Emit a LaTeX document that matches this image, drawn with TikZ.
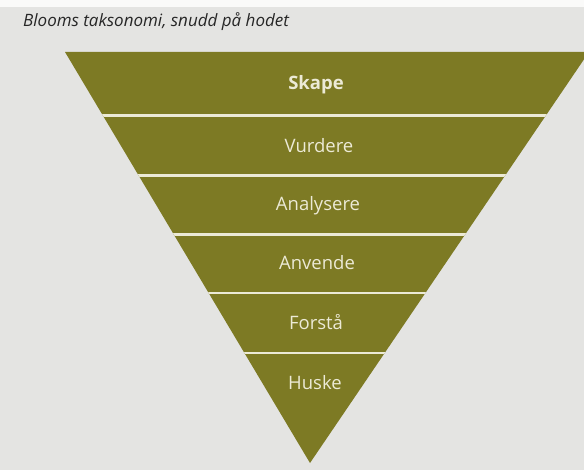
\documentclass[tikz,border=0pt]{standalone}
\usepackage{fontspec}
\setmainfont{Open Sans}
\usepackage{tikz}
\definecolor{olive}{RGB}{125,122,36}
\definecolor{paper}{RGB}{228,228,226}
\definecolor{cream}{RGB}{236,234,214}
\tikzset{
  layer/.style={font=\fontsize{18.5}{21}\selectfont, text=cream, inner sep=0pt},
  divider/.style={draw=cream, line width=2.6pt}
}
\newcommand{\layerlabel}[4]{\node[layer] (#1) at ( #2 , #3 ) {#4};}
\newcommand{\divline}[1]{\draw[divider] ( 0 , #1 ) -- ( 600 , #1 );}

\begin{document}
\begin{tikzpicture}[x=1pt,y=-1pt]
        % page
        \useasboundingbox (0,0) rectangle (584,470);
        \fill[paper] (0,0) rectangle (584,470);
        \fill[white!80!paper] (0,0) rectangle (584,7);
        \clip (0,0) rectangle (584,470);
        % heading
        \node[anchor=base west, inner sep=0pt, font=\itshape\fontsize{17}{20}\selectfont, text=black!85] (title) at (23,27) {Blooms taksonomi, snudd på hodet};
        % triangle
        \fill[olive] (65,52) -- (589,52) -- (310,463) -- cycle;
        \begin{scope}
            \clip (65,52) -- (589,52) -- (310,463) -- cycle;
            \divline{115.5}
            \divline{175.5}
            \divline{234.5}
            \divline{293}
            \divline{353}
        \end{scope}
        % labels, top to bottom
        \layerlabel{skape}{316}{85}{\textbf{Skape}}
        \layerlabel{vurdere}{319}{146}{Vurdere}
        \layerlabel{analysere}{318}{206}{Analysere}
        \layerlabel{anvende}{317}{263}{Anvende}
        \layerlabel{forsta}{316}{322}{Forstå}
        \layerlabel{huske}{315}{383}{Huske}
    \end{tikzpicture}
\end{document}
